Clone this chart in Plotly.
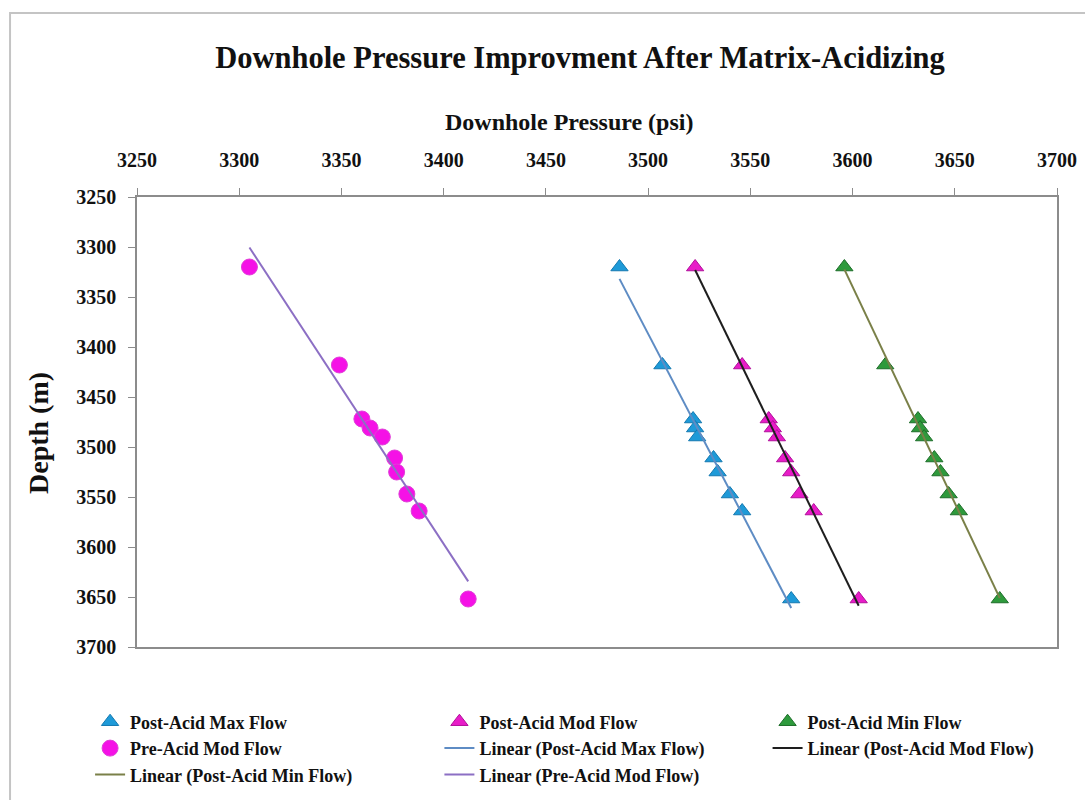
import numpy as np
import plotly.graph_objects as go

# ---- data ----
depth_m = [3320, 3418, 3472, 3481, 3490, 3511, 3525, 3547, 3564, 3652]
post_max_psi = [3486, 3507, 3522, 3523, 3524, 3532, 3534, 3540, 3546, 3570]
post_mod_psi = [3523, 3546, 3559, 3561, 3563, 3567, 3570, 3574, 3581, 3603]
post_min_psi = [3596, 3616, 3632, 3633, 3635, 3640, 3643, 3647, 3652, 3672]
pre_mod_psi = [3305, 3349, 3360, 3364, 3370, 3376, 3377, 3382, 3388, 3412]

series_names = ["Post-Acid Max Flow", "Post-Acid Mod Flow", "Post-Acid Min Flow", "Pre-Acid Mod Flow"]
x_ticks = list(range(3250, 3701, 50))
y_ticks = list(range(3250, 3701, 50))

FONT = "Liberation Serif, Times New Roman, serif"
INK = "#111111"

fig = go.Figure()

marker_specs = [
    (post_max_psi, series_names[0], "triangle-up", "#1E9AD8", "#1479B0", 15, "legend"),
    (post_mod_psi, series_names[1], "triangle-up", "#E81CC8", "#B0109A", 15, "legend2"),
    (post_min_psi, series_names[2], "triangle-up", "#2E9A3C", "#1E6E2A", 15, "legend3"),
    (pre_mod_psi, series_names[3], "circle", "#F511E6", "#E040D8", 16, "legend"),
]
for xs, name, sym, col, lcol, size, lg in marker_specs:
    fig.add_trace(go.Scatter(
        x=xs, y=depth_m, mode="markers", name=name, legend=lg,
        marker=dict(symbol=sym, size=size, color=col, line=dict(color=lcol, width=1)),
    ))

line_specs = [
    (post_max_psi, series_names[0], "#5E8CC4", "legend2"),
    (post_mod_psi, series_names[1], "#1E1E1E", "legend3"),
    (post_min_psi, series_names[2], "#7A8048", "legend"),
    (pre_mod_psi, series_names[3], "#8C6FC4", "legend2"),
]
for xs, name, col, lg in line_specs:
    xa = np.array(xs, dtype=float)
    ya = np.array(depth_m, dtype=float)
    m, b = np.polyfit(xa, ya, 1)
    xl = np.array([xa.min(), xa.max()])
    fig.add_trace(go.Scatter(
        x=xl, y=m * xl + b, mode="lines", name=f"Linear ({name})", legend=lg,
        line=dict(color=col, width=2),
    ))

axis_font = dict(family=FONT, size=20, color=INK, weight="bold")
fig.update_xaxes(
    side="top", range=[3250, 3700], tickvals=x_ticks, ticks="outside", ticklen=7,
    tickcolor="#8C8C8C", showline=True, linecolor="#8C8C8C", linewidth=1.5, mirror=True,
    showgrid=False, zeroline=False, tickfont=axis_font, ticklabelstandoff=13,
)
fig.update_yaxes(
    range=[3700, 3250], tickvals=y_ticks, ticks="outside", ticklen=7,
    tickcolor="#8C8C8C", showline=True, linecolor="#8C8C8C", linewidth=1.5, mirror=True,
    showgrid=False, zeroline=False, tickfont=axis_font, ticklabelstandoff=8,
)

leg_common = dict(
    orientation="v", yanchor="top", y=-0.1256, xanchor="left",
    font=dict(family=FONT, size=18, color=INK, weight="bold"), bgcolor="rgba(0,0,0,0)",
    borderwidth=0, tracegroupgap=0,
)
fig.update_layout(
    width=1085, height=800,
    margin=dict(l=137, r=28, t=197, b=153, autoexpand=False),
    paper_bgcolor="white", plot_bgcolor="white",
    title=dict(text="Downhole Pressure Improvment After Matrix-Acidizing",
               font=dict(family=FONT, size=30.5, color=INK, weight="bold"),
               x=580 / 1085, xanchor="center", y=1 - 57 / 800, yanchor="middle", xref="container", yref="container"),
    legend=dict(x=-0.051, **leg_common),
    legend2=dict(x=0.3287, **leg_common),
    legend3=dict(x=0.6854, **leg_common),
    annotations=[
        dict(text="Downhole Pressure (psi)", xref="paper", yref="paper",
             x=(569 - 137) / 920, y=(647 - 122) / 450, xanchor="center", yanchor="middle",
             showarrow=False, font=dict(family=FONT, size=24, color=INK, weight="bold")),
        dict(text="Depth (m)", xref="paper", yref="paper", textangle=-90,
             x=(38 - 137) / 920, y=(647 - 433) / 450, xanchor="center", yanchor="middle",
             showarrow=False, font=dict(family=FONT, size=28, color=INK, weight="bold")),
    ],
    shapes=[dict(type="rect", xref="paper", yref="paper", x0=-0.138, x1=1.2, y0=-0.6, y1=1.409,
                 line=dict(color="#C4C4C4", width=2), fillcolor="rgba(0,0,0,0)", layer="below")],
)
fig.update_traces(showlegend=True)
fig.write_html("out.html")
